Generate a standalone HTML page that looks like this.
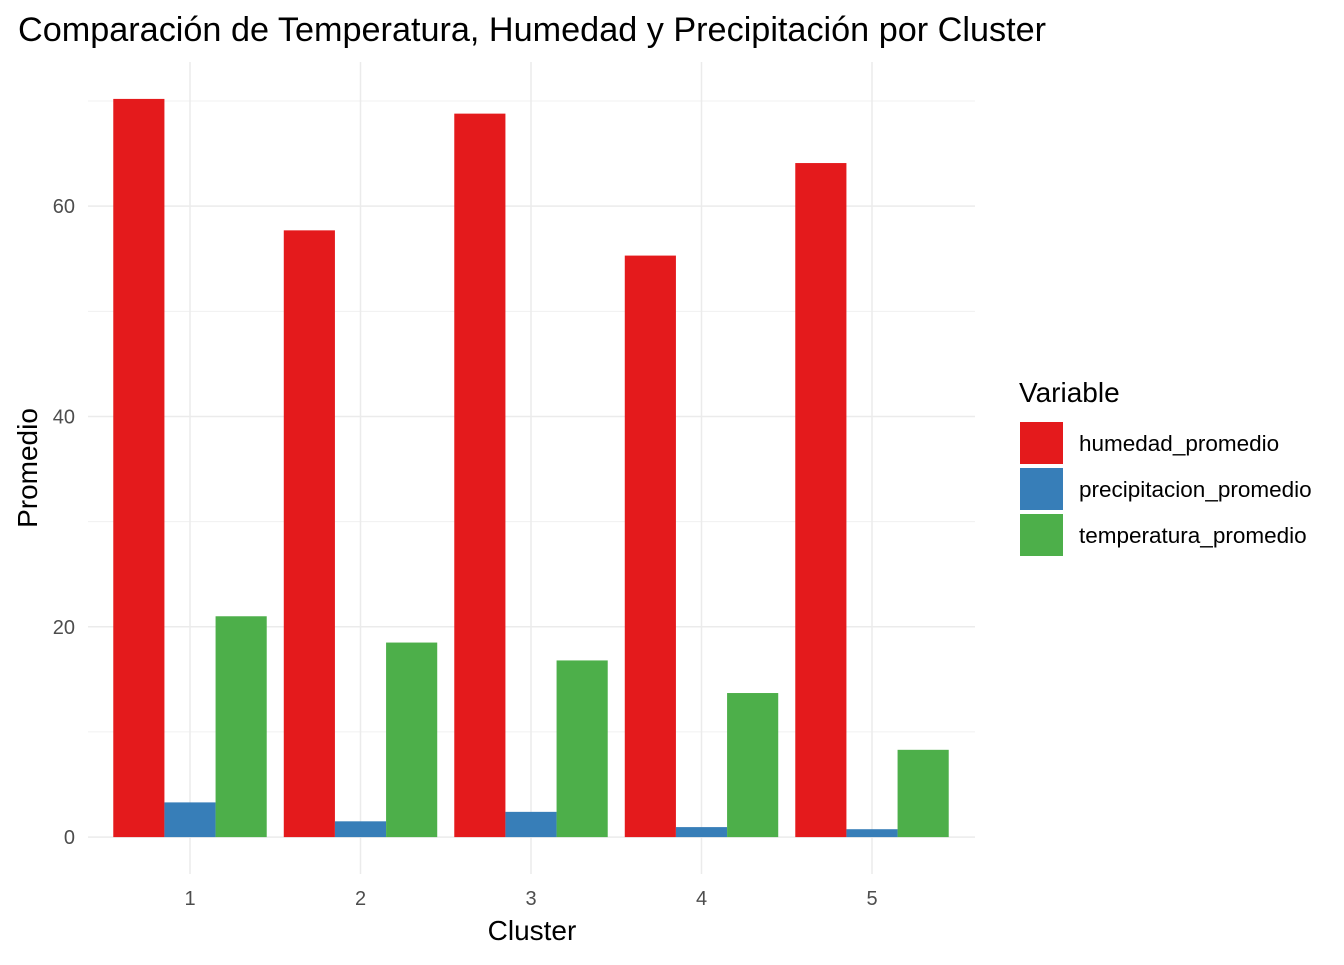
<!DOCTYPE html>
<html><head><meta charset="utf-8"><style>
body{margin:0;background:#fff;}
svg text{font-family:"Liberation Sans",sans-serif;}
</style></head><body>
<svg id="chart" width="1344" height="960" xmlns="http://www.w3.org/2000/svg">
<text x="18" y="41" font-size="34" fill="#000" textLength="1028" lengthAdjust="spacingAndGlyphs">Comparación de Temperatura, Humedad y Precipitación por Cluster</text>
<g id="grid"></g>
<g id="bars"></g>
<g id="axes"></g>
<text x="532" y="940" font-size="28" text-anchor="middle" fill="#000">Cluster</text>
<text transform="translate(37,468) rotate(-90)" font-size="28" text-anchor="middle" fill="#000">Promedio</text>
<g id="legend">
<text x="1019" y="402" font-size="28" fill="#000">Variable</text>
</g>
</svg>
<script>
const categories=["1","2","3","4","5"];
const seriesNames=["humedad_promedio","precipitacion_promedio","temperatura_promedio"];
const humedad=[70.2,57.7,68.8,55.3,64.1];
const precipitacion=[3.3,1.5,2.4,0.95,0.75];
const temperatura=[21.0,18.5,16.8,13.7,8.3];
const yTicks=[0,20,40,60];
const yMinor=[10,30,50,70];
const colors=["#E41A1C","#377EB8","#4DAF4A"];
const series=[humedad,precipitacion,temperatura];
const NS="http://www.w3.org/2000/svg";
const L=88,R=975,T=62,B=874;
const XL=104.75,XR=957.25;
const maxV=Math.max(...humedad,...precipitacion,...temperatura);
const ext=maxV*0.05;
const ymin=-ext,ymax=maxV+ext;
function y(v){return B-(v-ymin)/(ymax-ymin)*(B-T);}
const step=(XR-XL)/categories.length;
function x(i){return XL+step*(i+0.5);}
function mk(tag,attrs,parent){const e=document.createElementNS(NS,tag);for(const k in attrs)e.setAttribute(k,attrs[k]);document.getElementById(parent).appendChild(e);return e;}
yMinor.forEach(v=>{const l=mk("line",{x1:L,x2:R,y1:y(v),y2:y(v),stroke:"#f0f0f0","stroke-width":1},"grid");

});
yTicks.forEach(v=>{const l=mk("line",{x1:L,x2:R,y1:y(v),y2:y(v),stroke:"#ebebeb","stroke-width":1.5},"grid");


const t=mk("text",{x:75,y:y(v)+7,"font-size":20,"text-anchor":"end",fill:"#4d4d4d"},"axes");t.textContent=v;

});
categories.forEach((c,i)=>{const l=mk("line",{x1:x(i),x2:x(i),y1:T,y2:B,stroke:"#ebebeb","stroke-width":1.5},"grid");


const t=mk("text",{x:x(i),y:905,"font-size":20,"text-anchor":"middle",fill:"#4d4d4d"},"axes");t.textContent=c;


const gw=step*0.9,bw=gw/3;
series.forEach((s,j)=>{const x0=x(i)-gw/2+j*bw;const r=mk("rect",{x:x0,y:y(s[i]),width:bw,height:y(0)-y(s[i]),fill:colors[j]},"bars");

});});
seriesNames.forEach((n,j)=>{const r=mk("rect",{x:1020,y:422+j*46,width:43,height:42,fill:colors[j]},"legend");


const t=mk("text",{x:1079,y:451+j*46,"font-size":22.5,fill:"#000"},"legend");t.textContent=n;

});
</script>
</body></html>
